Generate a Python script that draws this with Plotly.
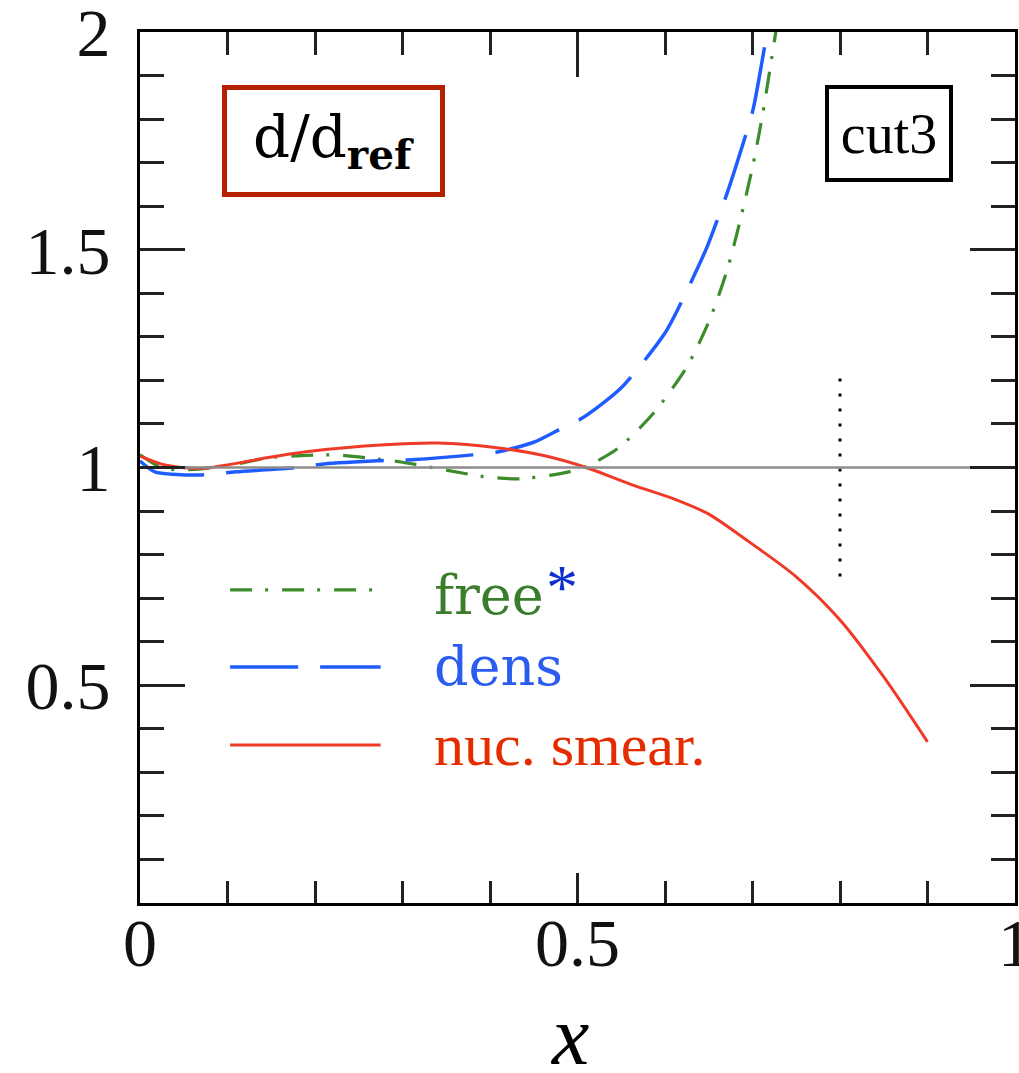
import plotly.graph_objects as go

# ---- data ----
x_free = [0.0, 0.025, 0.043, 0.07, 0.105, 0.146, 0.19, 0.223, 0.261, 0.30, 0.35, 0.397,
          0.434, 0.472, 0.49, 0.511, 0.547, 0.587, 0.625, 0.651, 0.671, 0.686, 0.701, 0.712, 0.727]
y_free = [1.029, 0.999, 0.995, 0.997, 1.006, 1.022, 1.028, 1.029, 1.022, 1.012, 0.994, 0.978,
          0.974, 0.983, 0.99, 1.003, 1.045, 1.125, 1.231, 1.339, 1.453, 1.568, 1.699, 1.816, 2.005]

x_dens = [0.0, 0.017, 0.05, 0.07, 0.11, 0.18, 0.21, 0.28, 0.31, 0.38, 0.41, 0.45, 0.48, 0.506,
          0.55, 0.60, 0.62, 0.648, 0.661, 0.671, 0.694, 0.701, 0.715]
y_dens = [1.015, 0.99, 0.983, 0.983, 0.99, 1.0, 1.008, 1.016, 1.018, 1.029, 1.036, 1.058, 1.088,
          1.114, 1.183, 1.309, 1.385, 1.506, 1.575, 1.63, 1.775, 1.825, 1.98]

x_nuc = [0.0, 0.03, 0.07, 0.15, 0.19, 0.28, 0.34, 0.41, 0.46, 0.51, 0.56, 0.61, 0.65, 0.69,
         0.75, 0.80, 0.85, 0.90]
y_nuc = [1.026, 1.005, 0.998, 1.024, 1.036, 1.052, 1.056, 1.045, 1.028, 1.0, 0.962, 0.928,
         0.893, 0.838, 0.749, 0.65, 0.519, 0.37]

x_ref = [0.0, 1.0]
y_ref = [1.0, 1.0]

x_cut = [0.8, 0.8]
y_cut = [0.75, 1.225]

x_ticks = [0, 0.5, 1]
x_ticktext = ["0", "0.5", "1"]
y_ticks = [0.5, 1, 1.5, 2]
y_ticktext = ["0.5", "1", "1.5", "2"]

series_names = ["free", "dens", "nuc. smear."]
GREEN = "#3d8c2c"
BLUE = "#1f5cff"
RED = "#f03a28"
GREEN_DASH = "22px,13px,3px,14px"
BLUE_DASH = "68px,22px"

fig = go.Figure()

fig.add_trace(go.Scatter(x=x_ref, y=y_ref, mode="lines", xaxis="x2",
                         line=dict(color="#8c8c8c", width=2.5), showlegend=False))
fig.add_trace(go.Scatter(x=x_cut, y=y_cut, mode="lines",
                         line=dict(color="black", width=3, dash="3px,12px"), showlegend=False))
fig.add_trace(go.Scatter(x=x_free, y=y_free, mode="lines", name=series_names[0],
                         line=dict(color=GREEN, width=3.2, dash=GREEN_DASH, shape="spline", smoothing=0.7),
                         showlegend=False))
fig.add_trace(go.Scatter(x=x_dens, y=y_dens, mode="lines", name=series_names[1],
                         line=dict(color=BLUE, width=3.5, dash=BLUE_DASH, shape="spline", smoothing=0.7),
                         showlegend=False))
fig.add_trace(go.Scatter(x=x_nuc, y=y_nuc, mode="lines", name=series_names[2],
                         line=dict(color=RED, width=3, shape="spline", smoothing=0.8),
                         showlegend=False))

tickfont = dict(family="Liberation Serif", size=68, color="#111")

fig.update_layout(
    width=1019, height=1073,
    margin=dict(l=140, r=4, t=32, b=170, autoexpand=False),
    paper_bgcolor="white", plot_bgcolor="white",
    xaxis=dict(range=[0, 1], tickmode="array", tickvals=x_ticks, ticktext=x_ticktext,
               ticks="inside", ticklen=30, tickwidth=2.5, tickcolor="#222",
               minor=dict(tickmode="linear", tick0=0, dtick=0.1, ticks="inside", ticklen=22,
                          tickwidth=2.5, tickcolor="#222"),
               showline=True, linewidth=3, linecolor="black", mirror=False,
               showgrid=False, zeroline=False, tickfont=tickfont, ticklabelstandoff=-22,
               ticklabeloverflow="allow", automargin=False),
    xaxis2=dict(range=[0, 1], overlaying="x", side="top", matches="x",
                tickmode="array", tickvals=x_ticks, showticklabels=False,
                ticks="inside", ticklen=45, tickwidth=2.5, tickcolor="#222",
                minor=dict(tickmode="linear", tick0=0, dtick=0.1, ticks="inside", ticklen=23,
                           tickwidth=2.5, tickcolor="#222"),
                showline=True, linewidth=3, linecolor="black",
                showgrid=False, zeroline=False, automargin=False),
    yaxis=dict(range=[0, 2], tickmode="array", tickvals=y_ticks, ticktext=y_ticktext,
               ticks="inside", ticklen=45, tickwidth=2.5, tickcolor="#222",
               minor=dict(tickmode="linear", tick0=0, dtick=0.1, ticks="inside", ticklen=24,
                          tickwidth=2.5, tickcolor="#222"),
               showline=True, linewidth=3, linecolor="black", mirror="ticks",
               showgrid=False, zeroline=False, tickfont=tickfont, ticklabelstandoff=13,
               ticklabeloverflow="allow", automargin=False),
)

# legend samples (decoration)
leg_y = [0.3594, 0.271, 0.1814]
leg_styles = [(GREEN, GREEN_DASH, 3.2), (BLUE, BLUE_DASH, 3.5), (RED, "solid", 3)]
for yy, (c, d, w) in zip(leg_y, leg_styles):
    fig.add_shape(type="line", xref="paper", yref="paper", x0=0.103, x1=0.275, y0=yy, y1=yy,
                  line=dict(color=c, width=w, dash=d))

fig.add_annotation(xref="paper", yref="paper", x=0.334, y=0.3525, xanchor="left", yanchor="middle",
                   text=series_names[0], showarrow=False,
                   font=dict(family="DejaVu Serif", size=54, color="#3a7d2a"))
fig.add_annotation(xref="paper", yref="paper", x=0.482, y=0.3628, xanchor="center", yanchor="middle",
                   text="*", showarrow=False,
                   font=dict(family="Liberation Serif", size=64, color="#1030cc"))
fig.add_annotation(xref="paper", yref="paper", x=0.334, y=0.271, xanchor="left", yanchor="middle",
                   text=series_names[1], showarrow=False,
                   font=dict(family="DejaVu Serif", size=54, color="#2a5cf0"))
fig.add_annotation(xref="paper", yref="paper", x=0.334, y=0.1814, xanchor="left", yanchor="middle",
                   text=series_names[2], showarrow=False,
                   font=dict(family="Liberation Serif", size=60, color="#e42c00"))

# boxed labels
fig.add_annotation(xref="paper", yref="paper", x=0.0937, y=0.939, xanchor="left", yanchor="top",
                   text="d/d<sub><b>ref</b></sub>", showarrow=False, width=205, height=94,
                   borderpad=4, borderwidth=5, bordercolor="#b42000", bgcolor="white",
                   font=dict(family="DejaVu Serif", size=58, color="black"))
fig.add_annotation(xref="paper", yref="paper", x=0.783, y=0.939, xanchor="left", yanchor="top",
                   text="cut3", showarrow=False, width=112, height=81,
                   borderpad=4, borderwidth=4, bordercolor="black", bgcolor="white",
                   font=dict(family="Liberation Serif", size=56, color="black"))

# axis title
fig.add_annotation(xref="paper", yref="paper", x=0.491, y=-0.152, xanchor="center", yanchor="middle",
                   text="<i>x</i>", showarrow=False,
                   font=dict(family="Liberation Serif", size=84, color="black"))

fig.write_html("out.html")
